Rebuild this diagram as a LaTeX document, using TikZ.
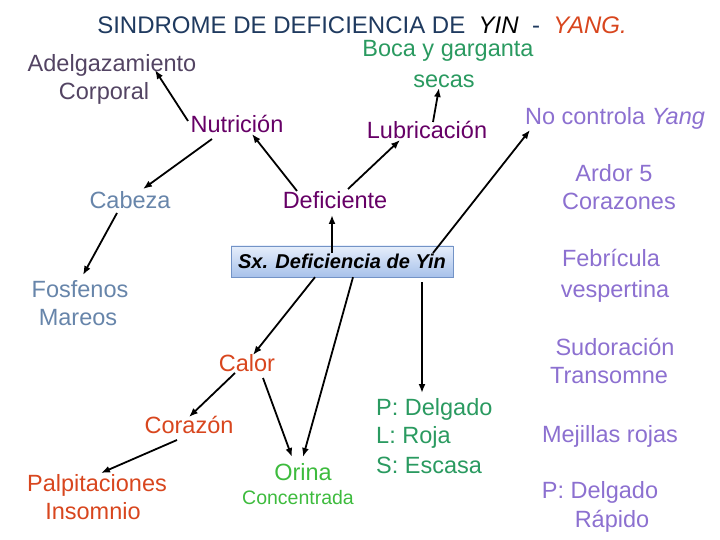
\documentclass[tikz,border=0pt]{standalone}
\usepackage{fontspec}
\setmainfont{Liberation Sans}
\usetikzlibrary{arrows.meta}
\definecolor{navy}{HTML}{1F3A5F}
\definecolor{mauve}{HTML}{534463}
\definecolor{sea}{HTML}{2A9A60}
\definecolor{lime}{HTML}{3DBB3D}
\definecolor{plum}{HTML}{660066}
\definecolor{lav}{HTML}{8C70D0}
\definecolor{steel}{HTML}{6785AA}
\definecolor{rust}{HTML}{D8461E}
\definecolor{boxtop}{HTML}{E6EEFB}
\definecolor{boxbot}{HTML}{A7C1EA}
\definecolor{boxedge}{HTML}{7393C6}

\begin{document}
\begin{tikzpicture}[x=1bp, y=-1bp,
  txt/.style={anchor=base, inner sep=0pt, font=\fontsize{23.5bp}{28bp}\selectfont},
  arr/.style={line width=1.8bp, -{Latex[length=9bp,width=7bp]}}]
  \useasboundingbox (0,0) rectangle (720,540);

  % title and top row
  \node[txt, text=navy, font=\fontsize{24bp}{28bp}\selectfont] (title) at (362,34) {SINDROME DE DEFICIENCIA DE\ \ \textcolor{black}{\itshape YIN}\ \ -\ \ \textcolor{rust}{\itshape YANG.}};
  \node[txt, text=mauve] (adel) at (112,72) {Adelgazamiento};
  \node[txt, text=mauve] (corp) at (104,100) {Corporal};
  \node[txt, text=sea] (boca) at (448,57) {Boca y garganta};
  \node[txt, text=sea] (secas) at (444,88) {secas};
  \node[txt, text=plum] (nutri) at (237,133) {Nutrición};
  \node[txt, text=plum] (lubri) at (427,139) {Lubricación};
  \node[txt, text=lav] (nocont) at (615,125) {No controla \textit{Yang}};

  % middle
  \node[txt, text=steel] (cabeza) at (130,209) {Cabeza};
  \node[txt, text=plum] (defic) at (335,209) {Deficiente};
  \node[draw=boxedge, top color=boxtop, bottom color=boxbot, minimum width=222bp, minimum height=31bp,
    inner sep=0pt, font=\bfseries\itshape\fontsize{20bp}{24bp}\selectfont] (sx) at (342,261.5) {Sx. Deficiencia de Yin};
  \node[txt, text=steel] (fosf) at (80,297) {Fosfenos};
  \node[txt, text=steel] (mareos) at (78,325) {Mareos};

  % right column
  \node[txt, text=lav] (ardor) at (614,182) {Ardor 5};
  \node[txt, text=lav] (cznes) at (619,210) {Corazones};
  \node[txt, text=lav] (febri) at (611,267) {Febrícula};
  \node[txt, text=lav] (vesp) at (615,297) {vespertina};
  \node[txt, text=lav] (sudor) at (615,355) {Sudoración};
  \node[txt, text=lav] (trans) at (609,383) {Transomne};
  \node[txt, text=lav] (mejil) at (610,442) {Mejillas rojas};
  \node[txt, text=lav] (pdelr) at (600,498) {P: Delgado};
  \node[txt, text=lav] (rapido) at (612,527) {Rápido};

  % bottom
  \node[txt, text=rust] (calor) at (247,371) {Calor};
  \node[txt, text=rust] (corazon) at (189,433) {Corazón};
  \node[txt, text=rust] (palp) at (97,491) {Palpitaciones};
  \node[txt, text=rust] (insom) at (93,519) {Insomnio};
  \node[txt, text=lime] (orina) at (303,480) {Orina};
  \node[txt, text=lime, font=\fontsize{19.5bp}{23bp}\selectfont] (conc) at (298,504) {Concentrada};
  \node[txt, anchor=base west, text=sea] (pdel) at (376,415) {P: Delgado};
  \node[txt, anchor=base west, text=sea] (lroja) at (376,443) {L: Roja};
  \node[txt, anchor=base west, text=sea] (sesc) at (376,473) {S: Escasa};

  % connectors
  \draw[arr] ([xshift=-49bp,yshift=12bp]nutri.base) -- ([xshift=43bp,yshift=2bp]adel.base);
  \draw[arr] ([xshift=-25bp,yshift=-6bp]nutri.base) -- ([xshift=13bp,yshift=20bp]cabeza.base);
  \draw[arr] ([xshift=-38bp,yshift=18bp]defic.base) -- ([xshift=15bp,yshift=-1bp]nutri.base);
  \draw[arr] ([xshift=13bp,yshift=20bp]defic.base) -- ([xshift=-27bp,yshift=-1bp]lubri.base);
  \draw[arr] ([xshift=6bp,yshift=17bp]lubri.base) -- ([xshift=-5bp]secas.base);
  \draw[arr] ([xshift=-10bp,yshift=8.5bp]sx.center) -- ([xshift=-3bp,yshift=-6bp]defic.base);
  \draw[arr] ([xshift=91bp,yshift=8.5bp]sx.center) -- ([xshift=-85bp,yshift=-5bp]nocont.base);
  \draw[arr] ([xshift=-13bp,yshift=-4bp]cabeza.base) -- ([xshift=3bp,yshift=22bp]fosf.base);
  \draw[arr] ([xshift=-27bp]sx.south) -- ([xshift=6bp,yshift=16bp]calor.base);
  \draw[arr] ([xshift=11bp]sx.south) -- ([yshift=23bp]orina.base);
  \draw[arr] ([xshift=80bp,yshift=-5bp]sx.south) -- ([xshift=46bp,yshift=22bp]pdel.base west);
  \draw[arr] ([xshift=-12bp,yshift=-2bp]calor.base) -- ([yshift=16bp]corazon.base);
  \draw[arr] ([xshift=16bp,yshift=-7bp]calor.base) -- ([xshift=-11bp,yshift=23bp]orina.base);
  \draw[arr] ([xshift=-12bp,yshift=-7bp]corazon.base) -- ([xshift=4bp,yshift=18bp]palp.base);
\end{tikzpicture}
\end{document}
